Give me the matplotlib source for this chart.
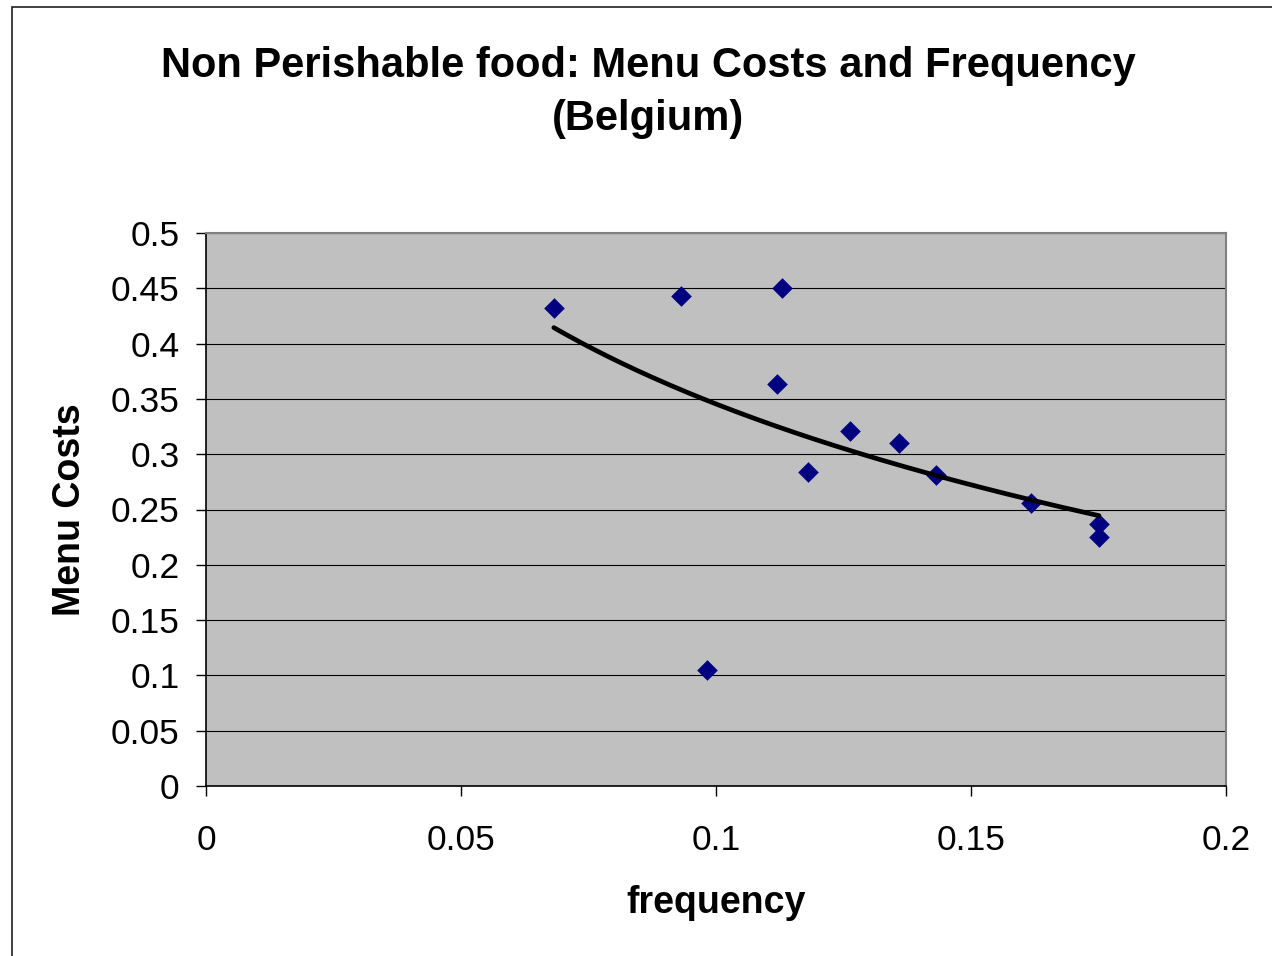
import numpy as np
import matplotlib
matplotlib.use('Agg')
import matplotlib.pyplot as plt
from matplotlib.patches import Rectangle

plt.rcParams['font.family'] = ['Liberation Sans', 'DejaVu Sans']

# values
frequency = [0.0682, 0.0931, 0.1130, 0.1120, 0.1263, 0.1359, 0.1181,
             0.1431, 0.0982, 0.1618, 0.1751, 0.1751]
menu_costs = [0.432, 0.443, 0.450, 0.3635, 0.321, 0.310, 0.284,
              0.281, 0.105, 0.2555, 0.237, 0.225]

title = "Non Perishable food: Menu Costs and Frequency\n(Belgium)"
xticks = [0, 0.05, 0.1, 0.15, 0.2]
xticklabels = ['0', '0.05', '0.1', '0.15', '0.2']
yticks = [0, 0.05, 0.1, 0.15, 0.2, 0.25, 0.3, 0.35, 0.4, 0.45, 0.5]
yticklabels = ['0', '0.05', '0.1', '0.15', '0.2', '0.25', '0.3', '0.35',
               '0.4', '0.45', '0.5']

W, H = 1272, 956
fig = plt.figure(figsize=(W / 100, H / 100), dpi=100)
ax = fig.add_axes([206 / W, 1 - 786 / H, 1020 / W, 553 / H])
ax.set_facecolor('#c0c0c0')

x = np.array(frequency)
y = np.array(menu_costs)
ax.scatter(x, y, marker='D', s=10.5 ** 2, color='#000080', linewidths=0,
           zorder=3)

# logarithmic trendline fitted to the points (as Excel does)
b, a = np.polyfit(np.log(x), y, 1)
xs = np.linspace(x.min(), x.max(), 200)
ax.plot(xs, a + b * np.log(xs), color='black', lw=3.4, zorder=4,
        solid_capstyle='round')

ax.set_xlim(0, 0.2)
ax.set_ylim(0, 0.5)
ax.set_xticks(xticks, xticklabels)
ax.set_yticks(yticks, yticklabels)
ax.tick_params(axis='both', direction='out', length=7, width=1,
               labelsize=25.5, color='black')
ax.tick_params(axis='x', pad=20)
ax.tick_params(axis='y', pad=12)
ax.yaxis.grid(True, color='black', lw=0.8)
ax.set_axisbelow(True)

for side in ['top', 'right']:
    ax.spines[side].set_color('#808080')
    ax.spines[side].set_linewidth(1.5)
for side in ['left', 'bottom']:
    ax.spines[side].set_color('black')
    ax.spines[side].set_linewidth(1.2)

ax.set_xlabel('frequency', fontsize=27, fontweight='bold')
ax.xaxis.set_label_coords(0.5, -(903 - 786) / 553)
ax.xaxis.label.set_va('center')
ax.set_ylabel('Menu Costs', fontsize=27, fontweight='bold')
ax.yaxis.set_label_coords(-(206 - 70) / 1020, 0.5)
ax.yaxis.label.set_va('center')

fig.text(648 / W, 1 - 46 / H, title, ha='center', va='top',
         fontsize=30, fontweight='bold', linespacing=1.42)

# chart area border (runs off the right and bottom edges)
fig.add_artist(Rectangle((12 / W, -0.1), 1.2, 1.1 - 7 / H,
                         transform=fig.transFigure, fill=False,
                         edgecolor='#202020', lw=1.2))

fig.savefig('out.png', dpi=100, facecolor='white')
